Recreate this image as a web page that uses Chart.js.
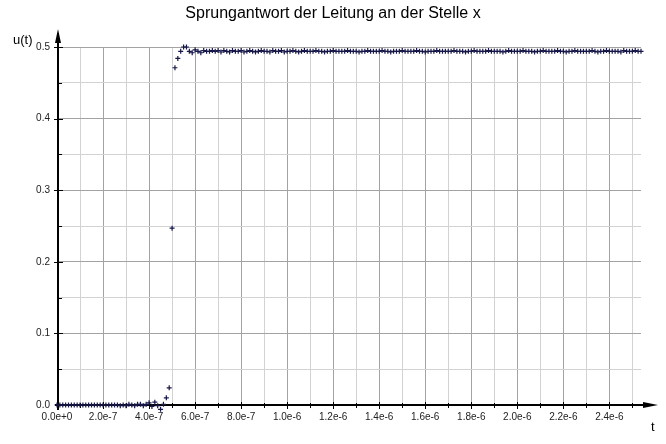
<!DOCTYPE html>
<html>
<head>
<meta charset="utf-8">
<script src="https://cdn.jsdelivr.net/npm/chart.js@4/dist/chart.umd.min.js"></script>
<style>
  html, body { margin: 0; padding: 0; background: #fff; }
  #wrap { width: 666px; height: 444px; }
</style>
</head>
<body>
<div id="wrap"><canvas id="c" width="666" height="444"></canvas></div>
<script>
// Step response u(t) of the line at position x, sampled every 12.5 ns
const chartTitle = 'Sprungantwort der Leitung an der Stelle x';
const yAxisLabel = 'u(t)';
const xAxisLabel = 't';
const sampleInterval = 1.25e-8;
const tMax = 2.5375e-6;
const uMax = 0.5;

const uValues = [
  0, 0, 0, 0, 0, 0, 0, 0, 0, 0,
  0, 0, 0, 0, 0, 0, 0, 0, 0, 0,
  0, 0, -0.001, 0, -0.001, 0.001, 0, -0.001, 0.001, 0.001,
  -0.001, 0.001, 0.003, -0.002, 0.004, -0.001, -0.006, 0.001, 0.010, 0.024,
  0.247, 0.471, 0.484, 0.494, 0.500, 0.500, 0.494, 0.492, 0.496, 0.494,
  0.492, 0.495, 0.494, 0.494, 0.495, 0.494, 0.495, 0.493, 0.495, 0.494,
  0.493, 0.495, 0.494, 0.494, 0.495, 0.493, 0.494, 0.495, 0.494, 0.493,
  0.494, 0.495, 0.494, 0.494, 0.493, 0.495, 0.494, 0.494, 0.495, 0.493,
  0.494, 0.494, 0.495, 0.494, 0.493, 0.494, 0.495, 0.494, 0.494, 0.494,
  0.495, 0.494, 0.494, 0.493, 0.494, 0.494, 0.495, 0.494, 0.494, 0.494,
  0.494, 0.495, 0.494, 0.494, 0.494, 0.493, 0.494, 0.494, 0.495, 0.494,
  0.494, 0.494, 0.494, 0.495, 0.494, 0.494, 0.493, 0.494, 0.494, 0.494,
  0.495, 0.494, 0.494, 0.494, 0.494, 0.495, 0.494, 0.494, 0.493, 0.494,
  0.494, 0.494, 0.495, 0.494, 0.494, 0.494, 0.494, 0.494, 0.495, 0.494,
  0.494, 0.494, 0.493, 0.494, 0.494, 0.495, 0.494, 0.494, 0.494, 0.494,
  0.495, 0.494, 0.494, 0.494, 0.494, 0.493, 0.494, 0.495, 0.494, 0.494,
  0.494, 0.494, 0.495, 0.494, 0.494, 0.494, 0.493, 0.494, 0.494, 0.495,
  0.494, 0.494, 0.494, 0.494, 0.495, 0.494, 0.494, 0.493, 0.494, 0.494,
  0.495, 0.494, 0.494, 0.494, 0.494, 0.494, 0.495, 0.494, 0.493, 0.494,
  0.494, 0.495, 0.494, 0.494, 0.494, 0.494, 0.493, 0.495, 0.494, 0.494,
  0.494, 0.495, 0.494, 0.494
];
const sampleTimes = uValues.map((_, i) => i * sampleInterval);

const FONT = '"Liberation Sans", Arial, sans-serif';
const MAJOR = '#a3a3a3';
const MINOR = '#d2d2d2';

const isMajorX = v => Math.round(v / 1e-7) % 2 === 0;
const isMajorY = v => Math.round(v / 0.05) % 2 === 0;

// Black axes with arrow heads, crossing tick marks, axis names and title
const axisDecor = {
  id: 'axisDecor',
  beforeDatasetsDraw(chart) {
    const { ctx, chartArea, scales: { x, y } } = chart;
    const xa = Math.round(x.getPixelForValue(0)) + 1;
    const ya = Math.round(y.getPixelForValue(0));
    ctx.save();
    ctx.strokeStyle = '#000';
    ctx.fillStyle = '#000';
    // axis lines
    ctx.lineWidth = 2;
    ctx.beginPath();
    ctx.moveTo(xa, ya + 5);
    ctx.lineTo(xa, chartArea.top - 14);
    ctx.moveTo(xa - 3, ya);
    ctx.lineTo(chartArea.right + 12, ya);
    ctx.stroke();
    // tick marks
    ctx.lineWidth = 1;
    ctx.beginPath();
    x.ticks.forEach(t => {
      const px = Math.round(x.getPixelForValue(t.value)) + 0.5;
      if (px <= xa + 1) return;
      const h = isMajorX(t.value) ? 3 : 2;
      ctx.moveTo(px, ya - h);
      ctx.lineTo(px, ya + h + 1);
    });
    y.ticks.forEach(t => {
      const py = Math.round(y.getPixelForValue(t.value)) + 0.5;
      if (py >= ya - 1) return;
      if (isMajorY(t.value)) {
        ctx.moveTo(xa - 4, py);
        ctx.lineTo(xa + 5, py);
      } else {
        ctx.moveTo(xa, py);
        ctx.lineTo(xa + 4, py);
      }
    });
    ctx.stroke();
    // arrow heads
    const yTip = chartArea.top - 18;
    ctx.beginPath();
    ctx.moveTo(xa, yTip);
    ctx.lineTo(xa - 3, yTip + 14);
    ctx.lineTo(xa + 3, yTip + 14);
    ctx.closePath();
    ctx.fill();
    const xTip = chartArea.right + 17;
    ctx.beginPath();
    ctx.moveTo(xTip, ya);
    ctx.lineTo(xTip - 15, ya - 3);
    ctx.lineTo(xTip - 15, ya + 3);
    ctx.closePath();
    ctx.fill();
    ctx.restore();
  },
  afterDraw(chart) {
    const { ctx, chartArea } = chart;
    ctx.save();
    ctx.fillStyle = '#000';
    ctx.textBaseline = 'alphabetic';
    ctx.font = '16px ' + FONT;
    ctx.textAlign = 'center';
    ctx.fillText(chartTitle, chart.width / 2, 18);
    ctx.font = '13px ' + FONT;
    ctx.textAlign = 'left';
    ctx.fillText(yAxisLabel, 13, chartArea.top - 3);
    ctx.fillText(xAxisLabel, chartArea.right + 10, 431);
    ctx.restore();
  }
};

new Chart(document.getElementById('c'), {
  type: 'scatter',
  data: {
    datasets: [{
      label: yAxisLabel,
      data: sampleTimes.map((t, i) => ({ x: t, y: uValues[i] })),
      pointStyle: 'cross',
      pointRadius: 2.5,
      pointBorderWidth: 1.2,
      borderColor: '#161648',
      backgroundColor: '#161648'
    }]
  },
  options: {
    responsive: false,
    animation: false,
    devicePixelRatio: 1,
    clip: false,
    layout: { padding: { top: 47, right: 25, left: 0, bottom: 0 } },
    plugins: {
      legend: { display: false },
      title: { display: false },
      tooltip: { enabled: false }
    },
    scales: {
      x: {
        type: 'linear',
        min: 0,
        max: tMax,
        border: { display: false },
        grid: {
          drawTicks: false,
          color: c => (isMajorX(c.tick.value) ? MAJOR : MINOR),
          lineWidth: 1
        },
        ticks: {
          stepSize: 1e-7,
          autoSkip: false,
          includeBounds: false,
          maxRotation: 0,
          padding: 6,
          color: '#222',
          font: { family: FONT, size: 10 },
          callback: v => {
            const k = Math.round(v / 1e-7);
            return k % 2 === 0 ? (k * 1e-7).toExponential(1) : '';
          }
        },
        afterFit: s => { s.height = 39; }
      },
      y: {
        type: 'linear',
        min: 0,
        max: uMax,
        border: { display: false },
        grid: {
          drawTicks: false,
          color: c => (isMajorY(c.tick.value) ? MAJOR : MINOR),
          lineWidth: 1
        },
        ticks: {
          stepSize: 0.05,
          autoSkip: false,
          padding: 7,
          color: '#222',
          font: { family: FONT, size: 10 },
          callback: v => {
            const k = Math.round(v / 0.05);
            return k % 2 === 0 ? (k * 0.05).toFixed(1) : '';
          }
        },
        afterFit: s => { s.width = 57; }
      }
    }
  },
  plugins: [axisDecor]
});
</script>
</body>
</html>
